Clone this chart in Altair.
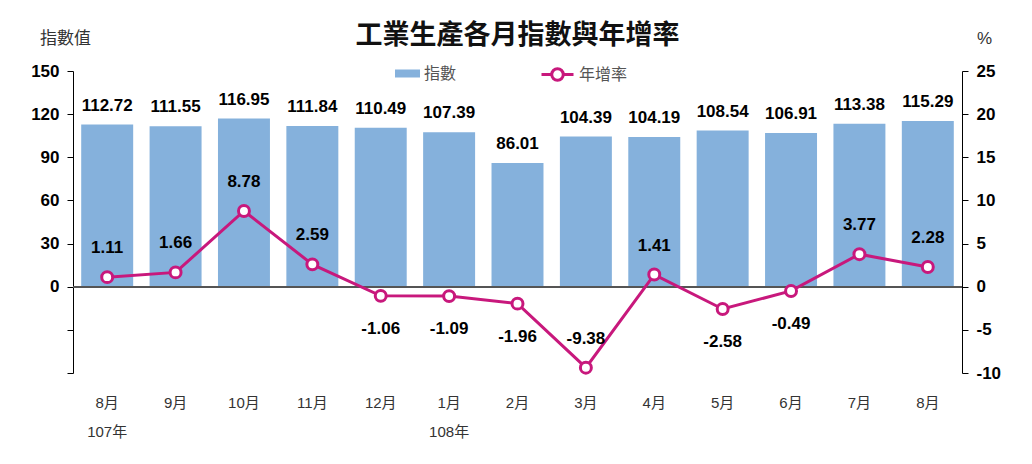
import altair as alt
import pandas as pd

months = ["8月", "9月", "10月", "11月", "12月", "1月", "2月", "3月", "4月", "5月", "6月", "7月", "8月"]
years = ["107年", "", "", "", "", "108年", "", "", "", "", "", "", ""]
index_vals = [112.72, 111.55, 116.95, 111.84, 110.49, 107.39, 86.01, 104.39, 104.19, 108.54, 106.91, 113.38, 115.29]
growth = [1.11, 1.66, 8.78, 2.59, -1.06, -1.09, -1.96, -9.38, 1.41, -2.58, -0.49, 3.77, 2.28]

cats = [m + ("|" + y if y else "") for m, y in zip(months, years)]
df = pd.DataFrame({"cat": cats, "idx": index_vals, "rate": growth,
                   "s1": "指數", "s2": "年增率"})

BLUE = "#85b1dc"
MAG = "#c8187c"
NUM_FONT = "Liberation Sans Narrow, Liberation Sans"
CJK = "Noto Sans CJK TC"

x = alt.X("cat:N", sort=cats, title=None,
          scale=alt.Scale(paddingInner=0.24, paddingOuter=0.12),
          axis=alt.Axis(labelExpr="split(datum.label, '|')", labelAngle=0,
                        domain=False, ticks=False, labelPadding=22,
                        labelLineHeight=29, labelFontSize=15, labelColor="#333",
                        labelFont="Liberation Sans, " + CJK, labelFontWeight="normal"))

base = alt.Chart(df).transform_calculate(
    idx_lbl="format(datum.idx, '.2f')",
    rate_lbl="replace(format(datum.rate, '.2f'), '\u2212', '-')",
)

y_left = alt.Y("idx:Q", scale=alt.Scale(domain=[-60, 150], nice=False, zero=False),
               axis=alt.Axis(values=[-60, -30, 0, 30, 60, 90, 120, 150],
                             labelExpr="datum.value < 0 ? '' : datum.label",
                             grid=False, domainColor="black", tickColor="black",
                             tickSize=6, labelPadding=8, labelFont=NUM_FONT,
                             labelFontWeight="bold", labelFontSize=17, labelColor="black",
                             title="指數值", titleAngle=0, titleX=-8, titleY=-33,
                             titleAlign="center", titleBaseline="middle",
                             titleFont=CJK, titleFontWeight="normal", titleFontSize=17,
                             titleColor="#333"))

bars = base.mark_bar(color=BLUE).encode(
    x=x, y=y_left,
    color=alt.Color("s1:N", scale=alt.Scale(domain=["指數"], range=[BLUE]),
                    legend=alt.Legend(orient="none", legendX=322, legendY=-10, title=None,
                                      symbolType="M-1,-0.32H1V0.32H-1Z", symbolSize=625,
                                      symbolStrokeWidth=0, labelFontSize=16,
                                      labelColor="#555", labelFont=CJK)))
bar_text = base.mark_text(baseline="bottom", dy=-10, fontSize=17, fontWeight="bold",
                          font=NUM_FONT, color="black").encode(
    x=alt.X("cat:N", sort=cats), y="idx:Q", text="idx_lbl:N")
zero = base.mark_rule(color="#555", strokeWidth=1.5).encode(y=alt.datum(0))

left_layer = alt.layer(bars, bar_text, zero)

y_right = alt.Y("rate:Q", scale=alt.Scale(domain=[-10, 25], nice=False, zero=False),
                axis=alt.Axis(orient="right", values=[-10, -5, 0, 5, 10, 15, 20, 25],
                              labelExpr="replace(datum.label, '\u2212', '-')",
                              grid=False, domainColor="black", tickColor="black",
                              tickSize=6, labelPadding=8, labelFont=NUM_FONT,
                              labelFontWeight="bold", labelFontSize=17, labelColor="black",
                              title="%", titleAngle=0, titleX=22, titleY=-33,
                              titleAlign="center", titleBaseline="middle",
                              titleFont="Liberation Sans", titleFontWeight="normal",
                              titleFontSize=17, titleColor="#333"))

line = base.mark_line(strokeWidth=3).encode(
    x=alt.X("cat:N", sort=cats), y=y_right,
    stroke=alt.Stroke("s2:N", scale=alt.Scale(domain=["年增率"], range=[MAG]),
                      legend=alt.Legend(orient="none", legendX=467, legendY=-14, title=None,
                                        symbolType="M-1,0H-0.36M0.36,0H1M-0.36,0A0.36,0.36 0 1,1 0.36,0A0.36,0.36 0 1,1 -0.36,0",
                                        symbolSize=1024, symbolStrokeWidth=3,
                                        symbolFillColor="white", labelFontSize=16,
                                        labelColor="#555", labelFont=CJK)))
points = base.mark_point(shape="circle", filled=True, fill="white", stroke=MAG,
                         strokeWidth=3, size=120, opacity=1).encode(
    x=alt.X("cat:N", sort=cats), y="rate:Q")
lab_above = base.transform_filter("datum.rate >= 0 || datum.rate < -5").mark_text(
    baseline="middle", dy=-29, fontSize=17, fontWeight="bold", font=NUM_FONT,
    color="black").encode(x=alt.X("cat:N", sort=cats), y="rate:Q", text="rate_lbl:N")
lab_below = base.transform_filter("datum.rate < 0 && datum.rate >= -5").mark_text(
    baseline="middle", dy=33, fontSize=17, fontWeight="bold", font=NUM_FONT,
    color="black").encode(x=alt.X("cat:N", sort=cats), y="rate:Q", text="rate_lbl:N")

right_layer = alt.layer(line, points, lab_above, lab_below)

chart = alt.layer(left_layer, right_layer).resolve_scale(
    y="independent", color="independent", stroke="independent"
).properties(
    width=889, height=302,
    autosize=alt.AutoSizeParams(type="none"),
    padding={"left": 65, "top": 63, "right": 60, "bottom": 80},
    title=alt.TitleParams("工業生產各月指數與年增率", fontSize=27, font=CJK,
                          fontWeight="bold", anchor="middle", offset=14, dy=35,
                          color="#111"),
    background="white",
).configure_view(stroke=None)

chart.save("out.html", embed_options={"renderer": "svg", "actions": False})
